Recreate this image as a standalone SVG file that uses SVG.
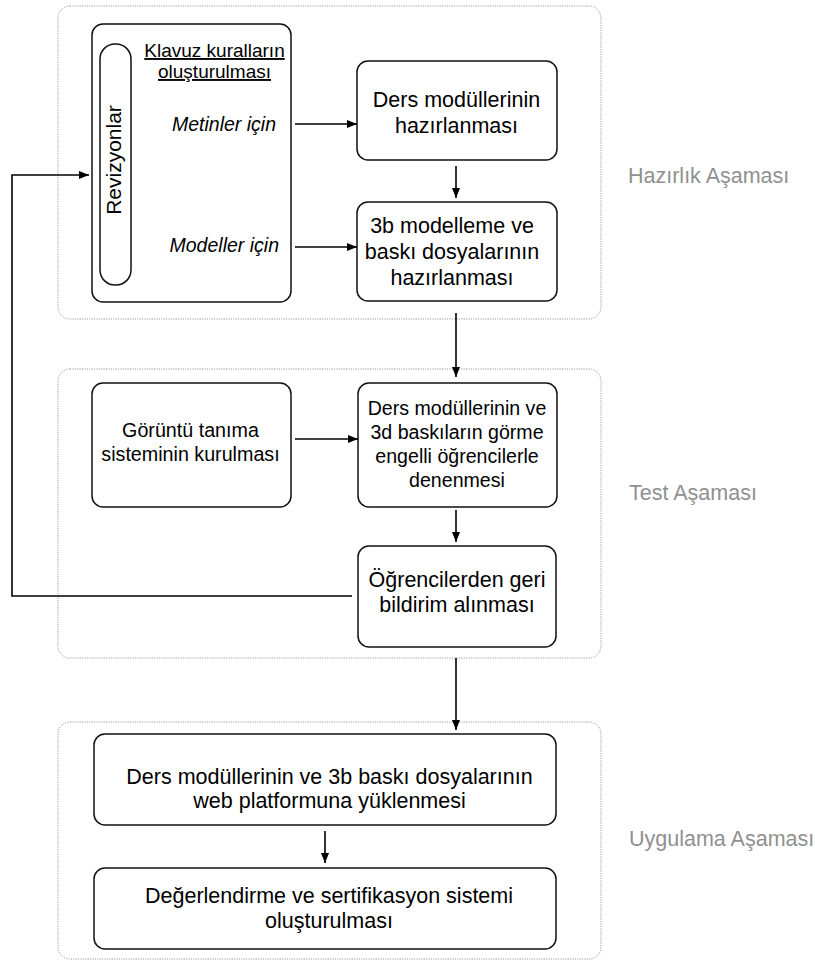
<svg xmlns="http://www.w3.org/2000/svg" width="815" height="961" viewBox="0 0 815 961">
<style>
.grp{fill:none;stroke:#9a9a9a;stroke-width:1;stroke-dasharray:1.2 1.2}
.box{fill:#fff;stroke:#111;stroke-width:1.5}
.t{font-family:"Liberation Sans",Arial,sans-serif;fill:#000;text-anchor:middle}
.phase{font-family:"Liberation Sans",Arial,sans-serif;fill:#909090;font-size:21.5px}
.it{font-family:"Liberation Sans",Arial,sans-serif;font-style:italic;font-size:19.5px;text-anchor:end}
.c{fill:none;stroke:#000;stroke-width:1.6}
</style>
<defs>
<marker id="ah" markerWidth="10" markerHeight="10" refX="10" refY="5" orient="auto" markerUnits="userSpaceOnUse">
<path d="M0,1 L10,5 L0,9 z" fill="#000"/>
</marker>
</defs>
<rect width="815" height="961" fill="#fff"/>

<g id="phase-hazirlik">
<rect class="grp" x="58" y="6" width="543" height="313" rx="12"/>
<text class="phase" x="628" y="183">Hazırlık Aşaması</text>
</g>
<g id="phase-test">
<rect class="grp" x="58" y="369" width="543" height="289" rx="12"/>
<text class="phase" x="629" y="500">Test Aşaması</text>
</g>
<g id="phase-uygulama">
<rect class="grp" x="58" y="722" width="543" height="237" rx="12"/>
<text class="phase" x="629" y="846">Uygulama Aşaması</text>
</g>

<g id="klavuz">
<rect class="box" x="92" y="24" width="199" height="278" rx="11"/>
<text class="t" x="214.5" y="57" font-size="19px" text-decoration="underline">Klavuz kuralların</text>
<text class="t" x="214.5" y="78" font-size="19px" text-decoration="underline">oluşturulması</text>
<text class="it" x="276" y="131">Metinler için</text>
<text class="it" x="279" y="252">Modeller için</text>
</g>
<g id="revizyonlar">
<rect class="box" x="100" y="44" width="31" height="241" rx="15"/>
<text class="t" font-size="21px" transform="translate(121,160) rotate(-90)">Revizyonlar</text>
</g>

<g id="ders-hazirlama">
<rect class="box" x="357" y="61" width="200" height="99" rx="11"/>
<text class="t" font-size="21.5px" x="456.5" y="107">Ders modüllerinin</text>
<text class="t" font-size="21.5px" x="456.5" y="133">hazırlanması</text>
</g>
<g id="modelleme">
<rect class="box" x="357" y="202" width="200" height="99" rx="11"/>
<text class="t" font-size="21.5px" x="452" y="233">3b modelleme ve</text>
<text class="t" font-size="21.5px" x="452" y="259">baskı dosyalarının</text>
<text class="t" font-size="21.5px" x="452" y="285">hazırlanması</text>
</g>

<g id="goruntu">
<rect class="box" x="92" y="383" width="199" height="124" rx="11"/>
<text class="t" font-size="19.7px" x="190.5" y="437">Görüntü tanıma</text>
<text class="t" font-size="19.7px" x="190.5" y="461">sisteminin kurulması</text>
</g>
<g id="deneme">
<rect class="box" x="358" y="383" width="199" height="124" rx="11"/>
<text class="t" font-size="19.6px" x="457" y="415">Ders modüllerinin ve</text>
<text class="t" font-size="19.6px" x="457" y="439">3d baskıların görme</text>
<text class="t" font-size="19.6px" x="457" y="463">engelli öğrencilerle</text>
<text class="t" font-size="19.6px" x="457" y="487">denenmesi</text>
</g>
<g id="geri-bildirim">
<rect class="box" x="358" y="546" width="198" height="101" rx="11"/>
<text class="t" font-size="21.5px" x="457" y="587">Öğrencilerden geri</text>
<text class="t" font-size="21.5px" x="457" y="612">bildirim alınması</text>
</g>

<g id="yukleme">
<rect class="box" x="94" y="734" width="462" height="91" rx="11"/>
<text class="t" font-size="21.5px" x="329.5" y="784">Ders modüllerinin ve 3b baskı dosyalarının</text>
<text class="t" font-size="21.5px" x="329.5" y="808">web platformuna yüklenmesi</text>
</g>
<g id="sertifikasyon">
<rect class="box" x="94" y="868" width="462" height="81" rx="11"/>
<text class="t" font-size="21.5px" x="329" y="903">Değerlendirme ve sertifikasyon sistemi</text>
<text class="t" font-size="21.5px" x="329" y="928">oluşturulması</text>
</g>

<g id="connectors">
<line class="c" x1="295" y1="124" x2="357" y2="124" marker-end="url(#ah)"/>
<line class="c" x1="295" y1="247" x2="357" y2="247" marker-end="url(#ah)"/>
<line class="c" x1="456" y1="166" x2="456" y2="198" marker-end="url(#ah)"/>
<line class="c" x1="456" y1="313" x2="456" y2="377" marker-end="url(#ah)"/>
<line class="c" x1="295" y1="439" x2="358" y2="439" marker-end="url(#ah)"/>
<line class="c" x1="456" y1="510" x2="456" y2="542" marker-end="url(#ah)"/>
<line class="c" x1="456" y1="658" x2="456" y2="730" marker-end="url(#ah)"/>
<line class="c" x1="325" y1="831" x2="325" y2="863" marker-end="url(#ah)"/>
<polyline class="c" points="352,596 12,596 12,175 89,175" marker-end="url(#ah)"/>
</g>
</svg>
